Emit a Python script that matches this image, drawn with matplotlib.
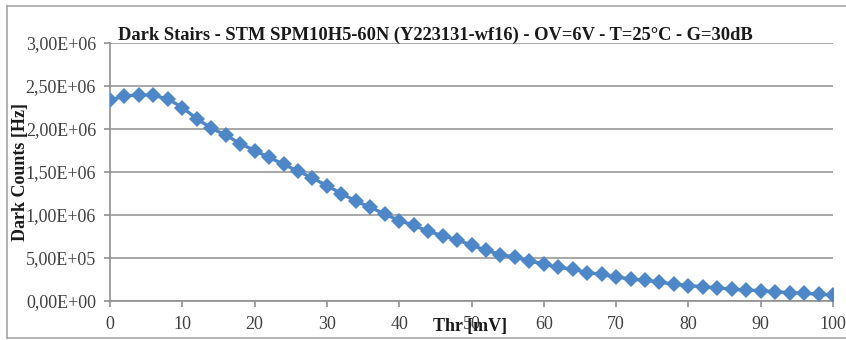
import numpy as np
import matplotlib
matplotlib.use("Agg")
import matplotlib.pyplot as plt
from matplotlib.lines import Line2D
from matplotlib.ticker import FuncFormatter

# threshold [mV] and dark counts [Hz]
thr = [0, 2, 4, 6, 8, 10, 12, 14, 16, 18, 20, 22, 24, 26, 28, 30, 32, 34, 36, 38,
       40, 42, 44, 46, 48, 50, 52, 54, 56, 58, 60, 62, 64, 66, 68, 70, 72, 74, 76, 78,
       80, 82, 84, 86, 88, 90, 92, 94, 96, 98, 100]
counts = [2.34e6, 2.38e6, 2.40e6, 2.39e6, 2.35e6, 2.25e6, 2.12e6, 2.01e6, 1.93e6, 1.83e6,
          1.75e6, 1.67e6, 1.59e6, 1.51e6, 1.43e6, 1.34e6, 1.25e6, 1.16e6, 1.09e6, 1.01e6,
          0.935e6, 0.88e6, 0.81e6, 0.76e6, 0.71e6, 0.65e6, 0.59e6, 0.54e6, 0.51e6, 0.465e6,
          0.43e6, 0.39e6, 0.37e6, 0.33e6, 0.31e6, 0.28e6, 0.255e6, 0.24e6, 0.22e6, 0.195e6,
          0.18e6, 0.165e6, 0.155e6, 0.135e6, 0.128e6, 0.12e6, 0.108e6, 0.097e6, 0.09e6, 0.078e6,
          0.07e6]
yticks = [0, 0.5e6, 1.0e6, 1.5e6, 2.0e6, 2.5e6, 3.0e6]
xticks = [0, 10, 20, 30, 40, 50, 60, 70, 80, 90, 100]

title = "Dark Stairs - STM SPM10H5-60N (Y223131-wf16) - OV=6V - T=25°C - G=30dB"

plt.rcParams['font.family'] = ['Liberation Serif', 'DejaVu Serif']

fig = plt.figure(figsize=(8.46, 3.4), dpi=100)

# outer chart frame (open on the right, as in the cropped original)
x0, x1 = 7 / 846, 1.0
y0, y1 = 1 - 338 / 340, 1 - 6 / 340
for xs, ys in (([x0, x1], [y1, y1]), ([x0, x0], [y0, y1]), ([x0, x1], [y0, y0])):
    fig.add_artist(Line2D(xs, ys, transform=fig.transFigure, color="#a6a6a6", linewidth=1.2))

ax = fig.add_axes([110 / 846, 1 - 301 / 340, 723 / 846, 258 / 340])
ax.plot(thr, counts, color="#4d87c7", linewidth=2.4, marker="D", markersize=8,
        markeredgewidth=0, zorder=3)

ax.set_xlim(0, 100)
ax.set_ylim(0, 3.0e6)
ax.set_xticks(xticks)
ax.set_yticks(yticks)


def sci_comma(v, pos):
    s = "{:.2E}".format(v)
    return s.replace(".", ",")


ax.yaxis.set_major_formatter(FuncFormatter(sci_comma))
ax.grid(axis="y", color="#a0a0a0", linewidth=1.3)
ax.set_axisbelow(True)
for side in ("top", "right"):
    ax.spines[side].set_visible(False)
for side in ("left", "bottom"):
    ax.spines[side].set_color("#909090")
    ax.spines[side].set_linewidth(1.2)
ax.tick_params(axis="both", colors="#909090", labelcolor="#404040", labelsize=13,
               length=4, width=1.2, direction="out")
ax.tick_params(axis="y", pad=6)
ax.tick_params(axis="x", pad=7)

fig.text(118 / 846, 1 - 40 / 340, title, fontsize=13.3, fontweight="bold",
         ha="left", va="baseline", color="#1a1a1a")
fig.text(470 / 846, 1 - 327 / 340, "Thr [mV]", fontsize=13, fontweight="bold",
         ha="center", va="center", color="#1a1a1a")
fig.text(21 / 846, 1 - 172 / 340, "Dark Counts [Hz]", fontsize=13, fontweight="bold",
         ha="center", va="center", rotation=90, color="#1a1a1a")

fig.savefig("out.png", dpi=100)
